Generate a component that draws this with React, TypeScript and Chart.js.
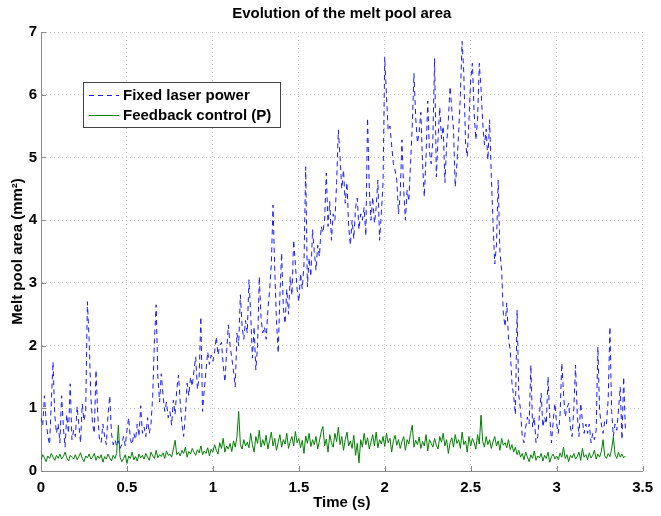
import React, { useEffect, useRef } from "react";
import { Chart, registerables } from "chart.js";

Chart.register(...registerables);

// ---------------- data ----------------
const TIME_STEP = 0.01; // sampling interval (s)

const FIXED_POWER = [
  0.85, 0.72, 1.2, 0.8, 0.55, 0.42, 1.1, 1.74, 0.9, 0.6,
  0.75, 0.45, 1.2, 0.7, 0.38, 0.9, 0.6, 1.39, 0.5, 0.65,
  0.55, 1.03, 0.75, 0.45, 1.07, 0.8, 0.95, 2.7, 2.1, 1.2,
  0.75, 0.6, 1.61, 0.9, 0.5, 0.45, 0.75, 0.55, 0.42, 0.9,
  1.2, 0.6, 0.42, 0.5, 0.4, 0.48, 0.36, 0.42, 0.55, 0.4,
  0.65, 0.85, 0.5, 0.42, 0.6, 0.5, 0.75, 0.55, 1.04, 0.6,
  0.7, 0.55, 0.85, 0.6, 0.75, 1.2, 2.1, 2.65, 1.5, 1.1,
  1.55, 1.2, 0.95, 1.1, 0.85, 0.95, 0.73, 1.13, 0.9, 1.3,
  1.53, 1.1, 0.75, 0.55, 0.9, 1.4, 1.2, 1.5, 1.35, 1.6,
  1.82, 1.3, 1.5, 2.46, 0.95, 1.3, 1.6, 1.9, 1.7, 1.85,
  1.75, 1.9, 2.14, 1.85, 2.0, 2.05, 1.7, 1.42, 1.9, 2.33,
  2.0, 1.8, 1.6, 1.34, 2.2, 2.0, 2.81, 2.3, 2.1, 2.4,
  2.2, 3.05, 2.5, 1.8, 2.3, 1.61, 2.0, 3.1, 2.45, 2.2,
  2.3, 2.1, 2.57, 2.88, 3.3, 4.24, 3.2, 2.4, 1.88, 2.8,
  3.48, 2.6, 2.35, 2.9, 2.5, 3.1, 2.8, 3.68, 3.3, 2.9,
  2.7, 3.15, 2.9, 3.3, 4.85, 2.94, 3.4, 3.1, 3.85, 3.5,
  3.2, 3.6, 3.42, 3.9, 3.8, 4.0, 4.75, 3.9, 4.3, 3.68,
  4.1, 4.0, 4.6, 5.44, 5.0, 4.5, 4.8, 4.27, 4.6, 3.9,
  3.6, 4.0, 3.7, 4.2, 4.35, 3.85, 4.1, 4.0, 4.2, 3.75,
  5.63, 4.5, 4.0, 4.37, 3.95, 4.2, 4.64, 3.68, 4.1, 4.6,
  6.6, 5.98, 5.43, 5.5, 5.2, 4.9, 4.8, 4.64, 4.1, 4.4,
  5.28, 4.5, 4.0, 4.48, 4.3, 4.9, 5.5, 6.34, 5.64, 5.23,
  5.4, 5.72, 4.9, 4.37, 5.0, 5.9, 5.1, 4.9, 5.3, 6.58,
  4.69, 5.3, 5.8, 5.3, 5.5, 4.6, 5.2, 5.6, 6.13, 5.77,
  5.45, 4.53, 4.9, 5.4, 6.0, 6.85, 6.34, 5.23, 5.01, 5.6,
  6.24, 6.5, 5.7, 5.28, 5.6, 6.5, 6.1, 5.55, 5.2, 5.45,
  4.96, 5.6, 4.7, 3.95, 3.3, 3.6, 4.64, 3.5, 3.2, 2.5,
  2.3, 2.68, 2.1, 1.93, 1.4, 1.2, 0.9, 2.57, 1.2, 0.97,
  0.55, 0.45, 0.7, 0.86, 0.75, 1.69, 0.7, 0.86, 0.45, 0.55,
  0.9, 1.24, 0.7, 0.86, 0.75, 1.5, 0.86, 0.45, 0.8, 1.08,
  0.75, 0.6, 0.9, 1.72, 1.24, 0.86, 1.0, 1.08, 0.7, 0.55,
  1.0, 1.69, 0.9, 0.55, 1.08, 0.8, 0.6, 0.75, 0.6, 0.75,
  0.45, 0.6, 0.5, 0.65, 1.98, 0.95, 0.75, 0.6, 0.8, 0.75,
  1.15, 2.3, 0.95, 0.55, 0.75, 0.65, 0.97, 1.34, 0.5, 1.5,
  0.65,
];

const FEEDBACK_P = [
  0.18, 0.26, 0.21, 0.15, 0.24, 0.2, 0.28, 0.22, 0.17, 0.25,
  0.2, 0.27, 0.19, 0.23, 0.3, 0.21, 0.16, 0.25, 0.22, 0.19,
  0.26, 0.18, 0.23, 0.29, 0.2, 0.15, 0.24, 0.21, 0.27, 0.19,
  0.22, 0.28, 0.17, 0.24, 0.2, 0.26, 0.14, 0.23, 0.19, 0.27,
  0.21, 0.16, 0.25, 0.2, 0.28, 0.73, 0.22, 0.15, 0.2, 0.26,
  0.12, 0.24, 0.2, 0.3, 0.18, 0.23, 0.16, 0.27, 0.21, 0.25,
  0.19, 0.28, 0.22, 0.17, 0.3, 0.24, 0.2, 0.33, 0.21, 0.26,
  0.23, 0.29, 0.2, 0.32, 0.25, 0.27, 0.22, 0.35, 0.49, 0.26,
  0.3, 0.24, 0.33, 0.28, 0.38, 0.22, 0.31, 0.27, 0.36, 0.3,
  0.25, 0.34, 0.29, 0.4, 0.26, 0.32, 0.28, 0.37, 0.24, 0.35,
  0.3, 0.42, 0.33, 0.27, 0.45, 0.36, 0.52, 0.3, 0.4, 0.35,
  0.44, 0.31, 0.48, 0.38, 0.55, 0.95, 0.42, 0.35, 0.5, 0.4,
  0.46, 0.37, 0.6, 0.42, 0.3, 0.55, 0.44, 0.65, 0.38, 0.5,
  0.41, 0.57, 0.35, 0.48, 0.62, 0.4, 0.52, 0.33, 0.46, 0.58,
  0.38, 0.5, 0.43, 0.6, 0.36, 0.47, 0.55, 0.4, 0.63, 0.45,
  0.52, 0.37, 0.49, 0.28, 0.56, 0.44, 0.6, 0.39, 0.5, 0.42,
  0.55, 0.35, 0.48, 0.62, 0.71, 0.4, 0.51, 0.3, 0.58, 0.45,
  0.38, 0.6, 0.47, 0.7, 0.42, 0.55, 0.33, 0.5, 0.62, 0.4,
  0.48, 0.36, 0.57, 0.25, 0.44, 0.13, 0.5, 0.38, 0.6, 0.42,
  0.53, 0.35, 0.46, 0.58, 0.4, 0.62, 0.37, 0.5, 0.43, 0.55,
  0.39, 0.6, 0.45, 0.52, 0.3, 0.48, 0.57, 0.41, 0.5, 0.36,
  0.47, 0.55, 0.33, 0.5, 0.43, 0.6, 0.73, 0.38, 0.49, 0.42,
  0.54, 0.36, 0.47, 0.4, 0.58, 0.32, 0.5, 0.44, 0.38, 0.52,
  0.41, 0.35, 0.55, 0.46, 0.6, 0.4, 0.5, 0.28, 0.45, 0.53,
  0.38, 0.58, 0.44, 0.5, 0.36, 0.62, 0.42, 0.48, 0.3, 0.55,
  0.4, 0.52, 0.45, 0.35, 0.58, 0.43, 0.89, 0.47, 0.38, 0.55,
  0.42, 0.5, 0.36, 0.47, 0.55, 0.4, 0.48, 0.33, 0.52, 0.41,
  0.45, 0.37, 0.5, 0.34, 0.42, 0.3, 0.38, 0.26, 0.33, 0.22,
  0.28, 0.18, 0.3, 0.22, 0.15, 0.26, 0.2, 0.32, 0.17, 0.24,
  0.21, 0.28, 0.16, 0.25, 0.2, 0.3, 0.14, 0.23, 0.27, 0.19,
  0.24, 0.18, 0.29, 0.22, 0.38, 0.2, 0.26, 0.15, 0.25, 0.21,
  0.28, 0.19, 0.23, 0.3, 0.17, 0.36, 0.22, 0.26, 0.18, 0.29,
  0.21, 0.25, 0.33, 0.19, 0.27, 0.22, 0.31, 0.5, 0.24, 0.2,
  0.28, 0.23, 0.35, 0.54, 0.26, 0.2, 0.3, 0.22, 0.27, 0.21,
  0.24,
];

const SERIES_NAMES = ["Fixed laser power", "Feedback control (P)"];
const TITLE = "Evolution of the melt pool area";
const X_LABEL = "Time (s)";
const Y_LABEL = "Melt pool area (mm²)";
const X_MIN = 0;
const X_MAX = 3.5;
const X_STEP = 0.5;
const Y_MIN = 0;
const Y_MAX = 7;
const Y_STEP = 1;

// ---------------- styling ----------------
const FONT_FAMILY = "'Liberation Sans', Arial, Helvetica, sans-serif";
const FONT_SIZE = 15;
const AXIS_COLOR = "#8a8a8a";
const GRID_COLOR = "#c8c8c8";
const BLUE = "#1a1aff";
const GREEN = "#008000";
const BLUE_DASH = [5, 4];

const toPoints = (vals: number[]) =>
  vals.map((v, i) => ({ x: Math.round(i * TIME_STEP * 1000) / 1000, y: v }));

const decorPlugin = {
  id: "matlabDecor",
  afterDraw(chart: any) {
    const { ctx, chartArea, scales } = chart;
    const xs = scales.x;
    const ys = scales.y;
    ctx.save();
    // inward ticks on left and bottom axes
    ctx.strokeStyle = AXIS_COLOR;
    ctx.lineWidth = 1;
    ctx.beginPath();
    xs.ticks.forEach((t: any) => {
      const px = Math.round(xs.getPixelForValue(t.value)) + 0.5;
      ctx.moveTo(px, chartArea.bottom);
      ctx.lineTo(px, chartArea.bottom - 5);
    });
    ys.ticks.forEach((t: any) => {
      const py = Math.round(ys.getPixelForValue(t.value)) + 0.5;
      ctx.moveTo(chartArea.left, py);
      ctx.lineTo(chartArea.left + 5, py);
    });
    ctx.stroke();

    // legend box inside the plot
    const boxX = 83.5;
    const boxY = 82.5;
    const boxW = 197;
    const boxH = 45;
    ctx.fillStyle = "#ffffff";
    ctx.fillRect(boxX, boxY, boxW, boxH);
    ctx.strokeStyle = "#444444";
    ctx.lineWidth = 1;
    ctx.strokeRect(boxX, boxY, boxW, boxH);

    const rows = [95, 115];
    chart.data.datasets.forEach((ds: any, i: number) => {
      const y = rows[i];
      ctx.beginPath();
      ctx.strokeStyle = ds.borderColor;
      ctx.lineWidth = 1;
      ctx.setLineDash(ds.borderDash || []);
      ctx.moveTo(89, y + 0.5);
      ctx.lineTo(119, y + 0.5);
      ctx.stroke();
      ctx.setLineDash([]);
      ctx.fillStyle = "#000000";
      ctx.font = `bold ${FONT_SIZE}px ${FONT_FAMILY}`;
      ctx.textBaseline = "middle";
      ctx.textAlign = "left";
      ctx.fillText(ds.label, 123, y + 1);
    });
    ctx.restore();
  },
};

export default function App() {
  const canvasRef = useRef<HTMLCanvasElement | null>(null);

  useEffect(() => {
    if (!canvasRef.current) return;
    const tickFont = { family: FONT_FAMILY, size: FONT_SIZE, weight: "bold" as const };
    const chart = new Chart(canvasRef.current, {
      type: "line",
      data: {
        datasets: [
          {
            label: SERIES_NAMES[0],
            data: toPoints(FIXED_POWER),
            borderColor: BLUE,
            borderWidth: 1,
            borderDash: BLUE_DASH,
            pointRadius: 0,
            fill: false,
            tension: 0,
          },
          {
            label: SERIES_NAMES[1],
            data: toPoints(FEEDBACK_P),
            borderColor: GREEN,
            borderWidth: 1,
            pointRadius: 0,
            fill: false,
            tension: 0,
          },
        ],
      },
      options: {
        responsive: false,
        animation: false,
        layout: { padding: { left: 0, right: 10, top: 0, bottom: 0 } },
        plugins: {
          legend: { display: false },
          tooltip: { enabled: false },
          title: {
            display: true,
            fullSize: false,
            text: TITLE,
            color: "#000",
            font: { family: FONT_FAMILY, size: FONT_SIZE, weight: "bold" },
            padding: { top: 5, bottom: 9 },
          },
        },
        scales: {
          x: {
            type: "linear",
            min: X_MIN,
            max: X_MAX,
            ticks: {
              stepSize: X_STEP,
              color: "#000",
              font: tickFont,
              padding: 8,
              maxRotation: 0,
              callback: (v: any) => `${Number(v)}`,
            },
            grid: {
              color: GRID_COLOR,
              drawTicks: false,
              lineWidth: 1,
            },
            border: { color: AXIS_COLOR, width: 1, dash: [1, 3] },
            title: {
              display: true,
              text: X_LABEL,
              color: "#000",
              font: tickFont,
              padding: { top: 0, bottom: 4 },
            },
            afterFit: (scale: any) => {
              scale.height = 45;
            },
          },
          y: {
            type: "linear",
            min: Y_MIN,
            max: Y_MAX,
            ticks: {
              stepSize: Y_STEP,
              color: "#000",
              font: tickFont,
              padding: 4,
              callback: (v: any) => `${Number(v)}`,
            },
            grid: {
              color: GRID_COLOR,
              drawTicks: false,
              lineWidth: 1,
            },
            border: { color: AXIS_COLOR, width: 1, dash: [1, 3] },
            title: {
              display: true,
              text: Y_LABEL,
              color: "#000",
              font: tickFont,
              padding: { top: 9, bottom: 0 },
            },
            afterFit: (scale: any) => {
              scale.width = 41;
            },
          },
        },
      },
      plugins: [decorPlugin],
    });
    return () => chart.destroy();
  }, []);

  return (
    <div
      style={{
        position: "fixed",
        left: 0,
        top: 0,
        width: 661,
        height: 516,
        background: "#ffffff",
      }}
    >
      <canvas ref={canvasRef} width={661} height={516} />
    </div>
  );
}
